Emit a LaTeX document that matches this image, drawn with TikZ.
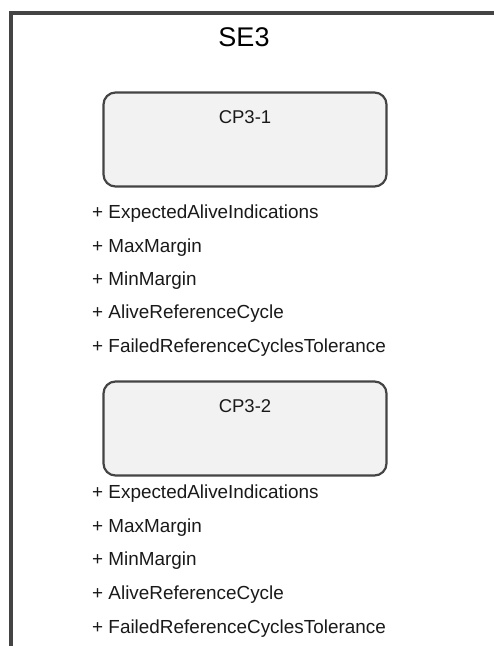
\documentclass[tikz,border=0pt]{standalone}
\usepackage{fontspec}
\setmainfont{Liberation Sans}
\definecolor{framegray}{HTML}{444444}
\definecolor{boxfill}{HTML}{F2F2F2}
\tikzset{
  cpbox/.style={draw=framegray, fill=boxfill, line width=2.2pt, rounded corners=12pt,
    minimum width=283pt, minimum height=94pt, inner sep=0pt},
  attr/.style={anchor=base west, inner sep=0pt, font=\fontsize{18.9}{22}\selectfont, text=black!90},
  cptitle/.style={anchor=base, inner sep=0pt, font=\fontsize{18.5}{22}\selectfont, text=black!90},
}
\begin{document}
\begin{tikzpicture}[x=1pt,y=-1pt]
\useasboundingbox (0,0) rectangle (494,646);
% frame
\coordinate (fbl) at (11,660);
\coordinate (ftl) at (11,13);
\coordinate (ftr) at (510,13);
\draw[framegray, line width=4pt] (fbl) -- (ftl) -- (ftr);
\node[anchor=base, inner sep=0pt, font=\fontsize{27}{32}\selectfont] (se3) at (244,46) {SE3};
% box 1
\node[cpbox] (cp1) at (245,139.5) {};
\node[cptitle] (cp1t) at (245,123) {CP3-1};
\node[attr] (a1) at (92,218) {+ ExpectedAliveIndications};
\node[attr] (a2) at (92,252) {+ MaxMargin};
\node[attr] (a3) at (92,285) {+ MinMargin};
\node[attr] (a4) at (92,318) {+ AliveReferenceCycle};
\node[attr] (a5) at (92,352) {+ FailedReferenceCyclesTolerance};
% box 2
\node[cpbox] (cp2) at (245,428.5) {};
\node[cptitle] (cp2t) at (245,412) {CP3-2};
\node[attr] (b1) at (92,498) {+ ExpectedAliveIndications};
\node[attr] (b2) at (92,532) {+ MaxMargin};
\node[attr] (b3) at (92,565) {+ MinMargin};
\node[attr] (b4) at (92,599) {+ AliveReferenceCycle};
\node[attr] (b5) at (92,633) {+ FailedReferenceCyclesTolerance};
\end{tikzpicture}
\end{document}
